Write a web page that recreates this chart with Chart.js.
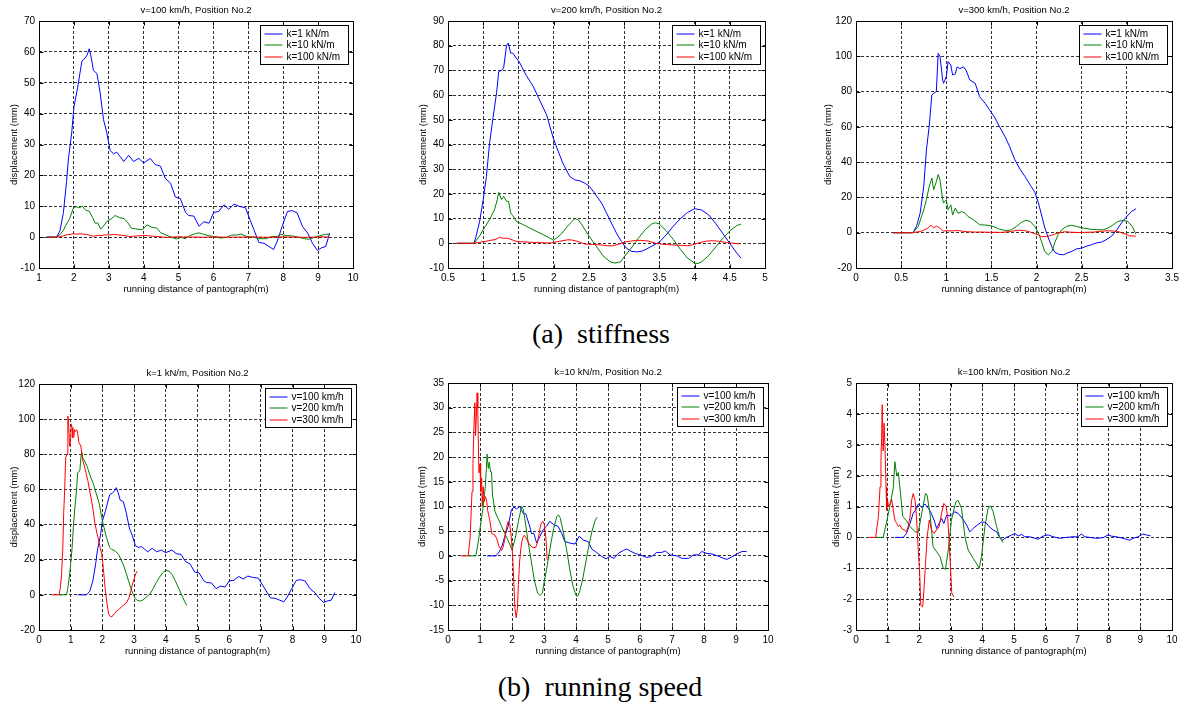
<!DOCTYPE html>
<html>
<head>
<meta charset="utf-8">
<script src="https://cdn.jsdelivr.net/npm/chart.js@4.4.1/dist/chart.umd.min.js"></script>
<style>
  html, body { margin: 0; padding: 0; background: #fff; overflow: hidden; }
  body { width: 1187px; height: 711px; position: relative; }
  canvas { position: absolute; }
  .cap { position: absolute; font-family: "Liberation Serif", "Times New Roman", serif; font-size: 28px; color: #000; white-space: pre; transform: translate(-50%, -50%); }
</style>
</head>
<body>
<canvas id="c1"></canvas>
<canvas id="c2"></canvas>
<canvas id="c3"></canvas>
<canvas id="c4"></canvas>
<canvas id="c5"></canvas>
<canvas id="c6"></canvas>
<div class="cap" style="left:601px; top:334px;">(a)  stiffness</div>
<div class="cap" style="left:600px; top:687px;">(b)  running speed</div>
<script>
// v = 100 km/h
const v100k1X = [1.22, 1.5, 1.6, 1.7, 1.79, 1.84, 1.94, 2.0, 2.1, 2.23, 2.32, 2.38, 2.44, 2.5, 2.56, 2.66, 2.75, 2.85, 2.94, 3.04, 3.14, 3.23, 3.33, 3.43, 3.57, 3.71, 3.86, 4.0, 4.19, 4.33, 4.48, 4.62, 4.77, 4.91, 5.05, 5.2, 5.29, 5.44, 5.59, 5.72, 5.87, 6.01, 6.15, 6.3, 6.44, 6.59, 6.73, 6.92, 7.05, 7.16, 7.3, 7.45, 7.59, 7.72, 7.83, 7.97, 8.12, 8.26, 8.4, 8.55, 8.7, 8.84, 8.98, 9.09, 9.22, 9.33];
const v100k1Y = [0, 0, 2, 8, 18, 25, 34, 42, 48, 57, 58, 59, 61, 58, 54, 53, 47, 38, 34, 28, 27, 27.5, 26, 24.5, 26.5, 24.5, 25.5, 24, 25.5, 23.5, 23, 19, 17.5, 13, 12.5, 8, 7, 6.8, 3.5, 5, 4.5, 8, 8.3, 10.5, 9, 10.7, 10, 9.5, 5.6, 2.4, -1.7, -2, -3, -4, -1.3, 3.5, 8.3, 8.6, 7.8, 3.5, 1.3, -2, -4.3, -3.5, -3, 1.3];

const v100k10X = [1.22, 1.5, 1.6, 1.7, 1.77, 1.88, 1.98, 2.06, 2.14, 2.24, 2.35, 2.43, 2.54, 2.61, 2.68, 2.77, 2.87, 2.97, 3.08, 3.18, 3.31, 3.44, 3.55, 3.65, 3.81, 3.97, 4.1, 4.23, 4.38, 4.49, 4.64, 4.8, 4.94, 5.06, 5.19, 5.32, 5.48, 5.58, 5.69, 5.85, 6.0, 6.21, 6.37, 6.52, 6.68, 6.79, 6.94, 7.15, 7.31, 7.52, 7.67, 7.83, 7.93, 8.09, 8.25, 8.46, 8.61, 8.72, 8.87, 9.03, 9.19, 9.33];
const v100k10Y = [0, 0, 0.8, 2.2, 3.9, 6, 9.3, 9.9, 9.5, 10, 8.6, 8.5, 6.3, 4.5, 4.6, 2.6, 3.9, 5.3, 6, 7, 6.3, 6, 4.6, 2.9, 2.6, 2.4, 4, 3.2, 2.9, 1.4, 0.7, -0.1, -0.6, -0.1, -0.5, 0.5, 1.1, 1.4, 1, 0.5, 0.2, -0.3, -0.1, 0.7, 0.7, 1, 0.2, 0, -0.5, -0.5, 0.2, 0.2, 0.9, 0.5, 0.4, -0.1, -0.5, -0.7, -0.2, 0.4, 0.9, 0.9];

const v100k100X = [1.23, 1.5, 1.6, 1.71, 1.81, 1.92, 1.97, 2.08, 2.18, 2.29, 2.36, 2.47, 2.55, 2.63, 2.71, 2.78, 2.87, 2.99, 3.13, 3.23, 3.37, 3.5, 3.6, 3.71, 3.84, 3.97, 4.11, 4.21, 4.34, 4.45, 4.55, 4.64, 4.76, 4.92, 5.03, 5.13, 5.24, 5.34, 5.5, 5.66, 5.76, 5.92, 6.08, 6.24, 6.45, 6.66, 6.87, 7.03, 7.13, 7.24, 7.4, 7.61, 7.82, 7.98, 8.08, 8.24, 8.45, 8.66, 8.77, 8.93, 9.08, 9.19, 9.32];
const v100k100Y = [0, 0, 0.13, 0.45, 0.78, 0.94, 1.08, 0.97, 1.08, 0.94, 0.83, 0.56, 0.29, 0.45, 0.61, 0.45, 0.72, 0.69, 0.83, 0.78, 0.61, 0.4, 0.18, 0.29, 0.4, 0.5, 0.48, 0.35, 0.24, 0.18, 0, -0.09, 0, 0.07, 0.13, 0.04, 0.1, 0.02, 0.02, -0.03, -0.06, 0.04, 0.08, 0.02, -0.03, 0, 0.02, 0.02, 0.11, 0.02, 0, -0.03, -0.01, 0.08, 0.04, 0.02, -0.03, -0.09, -0.03, 0.02, 0.11, 0.08, 0.05];

// v = 200 km/h
const v200k1X = [0.62, 0.87, 0.9, 0.95, 1.0, 1.045, 1.09, 1.14, 1.19, 1.22, 1.26, 1.29, 1.33, 1.355, 1.39, 1.42, 1.47, 1.52, 1.61, 1.71, 1.8, 1.9, 1.99, 2.04, 2.13, 2.23, 2.3, 2.37, 2.44, 2.51, 2.58, 2.68, 2.75, 2.82, 2.89, 2.96, 3.03, 3.1, 3.18, 3.25, 3.32, 3.41, 3.5, 3.6, 3.7, 3.8, 3.9, 4.0, 4.1, 4.2, 4.3, 4.4, 4.5, 4.6, 4.66];
const v200k1Y = [0, 0, 3, 9, 17.7, 27, 40.5, 51, 61, 69.5, 70, 71, 80, 81, 77, 77, 75, 73, 68, 63.5, 58, 52, 43, 39, 32.5, 27, 25.7, 25.3, 24.4, 23, 20.3, 16.3, 12.3, 8.2, 4.2, 0.8, -1.9, -3.2, -3.5, -3.2, -2.3, -0.9, 0.5, 3.5, 7, 10, 12.5, 14, 13.5, 11.5, 8, 4, 0, -4, -6];

const v200k10X = [0.62, 0.87, 0.95, 1.0, 1.09, 1.16, 1.2, 1.22, 1.26, 1.29, 1.33, 1.36, 1.39, 1.42, 1.47, 1.57, 1.66, 1.75, 1.85, 1.94, 2.0, 2.1, 2.2, 2.3, 2.35, 2.4, 2.5, 2.6, 2.7, 2.8, 2.87, 2.95, 3.0, 3.1, 3.2, 3.3, 3.4, 3.45, 3.5, 3.6, 3.7, 3.8, 3.9, 4.0, 4.05, 4.1, 4.2, 4.3, 4.4, 4.5, 4.6, 4.66];
const v200k10Y = [0, 0, 3, 5.5, 9.6, 13.6, 17.7, 20.6, 17.7, 19, 17, 17, 12.3, 11.2, 8.9, 7.5, 6.2, 4.9, 3.5, 2.2, 1.2, 3.5, 7, 10, 9.5, 7.5, 3, -1, -5, -7.5, -8, -7.5, -5.5, -2, 2, 5.5, 8, 8.3, 7.8, 5, 1.5, -2.5, -6, -8, -8.2, -7.5, -5, -1.5, 2, 5, 7.2, 7.8];

const v200k100X = [0.62, 0.86, 0.97, 1.07, 1.18, 1.23, 1.29, 1.34, 1.41, 1.48, 1.58, 1.71, 1.87, 1.97, 2.08, 2.2, 2.25, 2.34, 2.44, 2.55, 2.66, 2.76, 2.83, 2.92, 3.02, 3.16, 3.23, 3.34, 3.45, 3.55, 3.71, 3.81, 3.9, 3.97, 4.08, 4.18, 4.26, 4.34, 4.45, 4.55, 4.65];
const v200k100Y = [0, 0, 0.5, 1.0, 1.6, 2.45, 2.0, 2.1, 1.4, 0.67, 0.56, 0.35, 0.18, 0.16, 0.78, 1.42, 1.37, 0.78, -0.3, -0.46, -0.63, -1.0, -1.03, -0.41, 0.56, 1.15, 1.2, 0.94, 0, -0.41, -0.68, -0.84, -1.0, -0.63, 0.35, 0.94, 1.02, 0.83, 0.35, 0, -0.17];

// v = 300 km/h
const v300k1X = [0.41, 0.63, 0.67, 0.71, 0.75, 0.78, 0.81, 0.84, 0.86, 0.89, 0.91, 0.93, 0.96, 0.97, 1.0, 1.02, 1.05, 1.07, 1.1, 1.12, 1.15, 1.19, 1.22, 1.26, 1.32, 1.37, 1.43, 1.48, 1.54, 1.59, 1.65, 1.7, 1.76, 1.82, 1.87, 1.93, 1.98, 2.02, 2.06, 2.09, 2.13, 2.17, 2.2, 2.25, 2.3, 2.34, 2.39, 2.44, 2.5, 2.55, 2.61, 2.66, 2.72, 2.77, 2.83, 2.89, 2.94, 3.0, 3.05, 3.1];
const v300k1Y = [0, 0, 3.6, 11, 26, 47, 60, 78, 79, 80, 101.7, 100, 86.6, 84.7, 88.5, 97, 95, 89.4, 90, 94, 93, 94, 92, 86.6, 84.7, 77, 73.4, 69.6, 65, 60, 54.5, 49, 41.3, 35.7, 32, 27, 23, 17, 9, 3, -3, -8, -11, -12.3, -12.5, -11.5, -10.6, -9.2, -8.7, -7.7, -6.8, -5.8, -5.3, -4, -2, 1.7, 5.5, 9.2, 12, 13.5];

const v300k10X = [0.41, 0.63, 0.69, 0.75, 0.78, 0.81, 0.84, 0.86, 0.89, 0.91, 0.93, 0.96, 0.97, 1.0, 1.02, 1.05, 1.07, 1.1, 1.13, 1.17, 1.21, 1.24, 1.3, 1.37, 1.45, 1.52, 1.59, 1.67, 1.72, 1.78, 1.83, 1.88, 1.93, 1.98, 2.02, 2.06, 2.09, 2.13, 2.17, 2.2, 2.24, 2.28, 2.33, 2.39, 2.44, 2.52, 2.59, 2.66, 2.74, 2.79, 2.85, 2.9, 2.96, 3.01, 3.06, 3.1];
const v300k10Y = [0, 0, 3.6, 13, 18.7, 26, 31, 24.3, 29, 33, 30, 18.7, 16.8, 18.7, 13, 15.8, 10, 14, 11, 12, 11, 9.2, 7.4, 4.5, 4.3, 3.6, 2, 1.1, 1.7, 3.6, 5.8, 7, 6.4, 3.6, 0, -5.8, -10.6, -12.5, -10.6, -5.8, -1, 1.7, 3.6, 4.2, 3.6, 2.6, 2, 1.7, 1.7, 2.6, 4.5, 6.4, 7, 6.4, 3.6, -0.8];

const v300k100X = [0.41, 0.62, 0.71, 0.76, 0.79, 0.81, 0.83, 0.86, 0.89, 0.92, 0.95, 0.97, 1.0, 1.03, 1.07, 1.13, 1.18, 1.23, 1.29, 1.34, 1.39, 1.44, 1.52, 1.6, 1.65, 1.71, 1.76, 1.81, 1.87, 1.92, 1.97, 2.02, 2.05, 2.11, 2.15, 2.2, 2.25, 2.32, 2.39, 2.47, 2.55, 2.63, 2.71, 2.78, 2.85, 2.9, 2.94, 2.99, 3.03, 3.1];
const v300k100Y = [0, 0, 0.67, 1.64, 2.5, 3.2, 4.3, 2.8, 3.7, 2.9, 1.64, 0.88, 1.2, 1.0, 1.05, 1.23, 0.88, 0.56, 0.45, 0.35, 0.4, 0.29, 0.24, 0.18, 0.35, 0.67, 1.2, 1.42, 1.2, 0.56, -0.41, -1.27, -2.2, -2.25, -1.7, -0.84, 0, 0.56, 0.24, 0.13, 0.24, 0.35, 0.78, 1.1, 1.0, 0.67, 0, -0.95, -1.8, -1.94];

const stiffLabels = ['k=1 kN/m', 'k=10 kN/m', 'k=100 kN/m'];
const speedLabels = ['v=100 km/h', 'v=200 km/h', 'v=300 km/h'];
const lineColors = ['#0000ff', '#008000', '#ff0000'];

const xLabel = 'running distance of pantograph(m)';
const yLabel = 'displacement (mm)';

// x: [min, max, step], y: [min, max, step], box: plot area [left, top, right, bottom]
const panels = [
  { id: 'c1', title: 'v=100 km/h, Position No.2', labels: stiffLabels,
    series: [[v100k1X, v100k1Y], [v100k10X, v100k10Y], [v100k100X, v100k100Y]],
    x: [1, 10, 1], y: [-10, 70, 10], box: [39, 21, 353, 268], ylab: 25 },
  { id: 'c2', title: 'v=200 km/h, Position No.2', labels: stiffLabels,
    series: [[v200k1X, v200k1Y], [v200k10X, v200k10Y], [v200k100X, v200k100Y]],
    x: [0.5, 5, 0.5], y: [-10, 90, 10], box: [448, 21, 765, 268], ylab: 25 },
  { id: 'c3', title: 'v=300 km/h, Position No.2', labels: stiffLabels,
    series: [[v300k1X, v300k1Y], [v300k10X, v300k10Y], [v300k100X, v300k100Y]],
    x: [0, 3.5, 0.5], y: [-20, 120, 20], box: [856, 21, 1172, 268], ylab: 28 },
  { id: 'c4', title: 'k=1 kN/m, Position No.2', labels: speedLabels,
    series: [[v100k1X, v100k1Y], [v200k1X, v200k1Y], [v300k1X, v300k1Y]],
    x: [0, 10, 1], y: [-20, 120, 20], box: [39, 384, 356, 630], ylab: 25 },
  { id: 'c5', title: 'k=10 kN/m, Position No.2', labels: speedLabels,
    series: [[v100k10X, v100k10Y], [v200k10X, v200k10Y], [v300k10X, v300k10Y]],
    x: [0, 10, 1], y: [-15, 35, 5], box: [448, 383, 768, 630], ylab: 26 },
  { id: 'c6', title: 'k=100 kN/m, Position No.2', labels: speedLabels,
    series: [[v100k100X, v100k100Y], [v200k100X, v200k100Y], [v300k100X, v300k100Y]],
    x: [0, 10, 1], y: [-3, 5, 1], box: [856, 383, 1172, 630], ylab: 20 }
];

const FONT = '"Liberation Sans", Arial, sans-serif';
Chart.defaults.color = '#000';
Chart.defaults.font.family = FONT;

// MATLAB style: title over the axes, box, inward ticks, legend inside the axes
const matlabBox = {
  id: 'matlabBox',
  afterDraw(chart, args, opts) {
    const { ctx, chartArea: a, scales } = chart;
    const L = Math.round(a.left) + 0.5, R = Math.round(a.right) + 0.5;
    const T = Math.round(a.top) + 0.5, B = Math.round(a.bottom) + 0.5;
    ctx.save();

    ctx.fillStyle = '#000';
    ctx.font = '9.5px ' + FONT;
    ctx.textAlign = 'center';
    ctx.textBaseline = 'middle';
    ctx.fillText(opts.text, (a.left + a.right) / 2, a.top - 11);

    ctx.strokeStyle = '#000';
    ctx.lineWidth = 1;
    ctx.setLineDash([]);
    ctx.beginPath();
    scales.x.ticks.forEach(t => {
      const px = Math.round(scales.x.getPixelForValue(t.value)) + 0.5;
      ctx.moveTo(px, B); ctx.lineTo(px, B - 4);
      ctx.moveTo(px, T); ctx.lineTo(px, T + 4);
    });
    scales.y.ticks.forEach(t => {
      const py = Math.round(scales.y.getPixelForValue(t.value)) + 0.5;
      ctx.moveTo(L, py); ctx.lineTo(L + 4, py);
      ctx.moveTo(R, py); ctx.lineTo(R - 4, py);
    });
    ctx.stroke();
    ctx.strokeRect(L, T, R - L, B - T);

    // legend
    const ds = chart.data.datasets;
    ctx.font = '10px ' + FONT;
    ctx.textAlign = 'left';
    const tw = Math.max(...ds.map(d => ctx.measureText(d.label).width));
    const w = Math.round(tw + 34), h = 39;
    const lx = R - 5 - w, ly = T + 4;
    ctx.fillStyle = '#fff';
    ctx.fillRect(lx, ly, w, h);
    ctx.strokeRect(lx, ly, w, h);
    ds.forEach((d, i) => {
      const cy = Math.round(ly + 8 + i * 11.7);
      ctx.strokeStyle = d.borderColor;
      ctx.beginPath();
      ctx.moveTo(lx + 4, cy); ctx.lineTo(lx + 22, cy);
      ctx.stroke();
      ctx.fillStyle = '#000';
      ctx.fillText(d.label, lx + 26, cy);
    });
    ctx.restore();
  }
};

panels.forEach(p => {
  const [l, t, r, b] = p.box;
  const cx = l - 40, cy = t - 22;
  const cw = r - cx + 15, ch = b - cy + 32;
  const canvas = document.getElementById(p.id);
  canvas.width = cw; canvas.height = ch;
  canvas.style.left = cx + 'px';
  canvas.style.top = cy + 'px';

  const datasets = p.series.map((s, i) => ({
    label: p.labels[i],
    data: s[0].map((x, j) => ({ x: x, y: s[1][j] })),
    borderColor: lineColors[i],
    borderWidth: 1,
    pointRadius: 0,
    tension: 0,
    order: 3 - i
  }));

  new Chart(canvas, {
    type: 'line',
    data: { datasets },
    options: {
      responsive: false,
      animation: false,
      devicePixelRatio: 1,
      layout: { padding: { left: 0, top: 22, right: 15, bottom: 0 } },
      plugins: {
        legend: { display: false },
        tooltip: { enabled: false },
        title: { display: false },
        matlabBox: { text: p.title }
      },
      scales: {
        x: {
          type: 'linear',
          min: p.x[0], max: p.x[1],
          ticks: { stepSize: p.x[2], padding: 4, font: { size: 10 }, maxRotation: 0, autoSkip: false,
                   callback: v => String(+v.toFixed(2)) },
          grid: { color: '#333', lineWidth: 1, drawTicks: false },
          border: { display: false, dash: [3, 2] },
          title: { display: true, text: xLabel, font: { size: 9.5, lineHeight: 1.2 }, padding: { top: 0, bottom: 4.5 } },
          afterFit: s => { s.height = 32; }
        },
        y: {
          type: 'linear',
          min: p.y[0], max: p.y[1],
          ticks: { stepSize: p.y[2], padding: 4, font: { size: 10 }, autoSkip: false,
                   callback: v => String(+v.toFixed(2)) },
          grid: { color: '#333', lineWidth: 1, drawTicks: false },
          border: { display: false, dash: [3, 2] },
          title: { display: true, text: yLabel, font: { size: 9.5, lineHeight: 1.2 }, padding: { top: 40 - p.ylab - 5.7, bottom: 0 } },
          afterFit: s => { s.width = 40; }
        }
      }
    },
    plugins: [matlabBox]
  });
});
</script>
</body>
</html>
